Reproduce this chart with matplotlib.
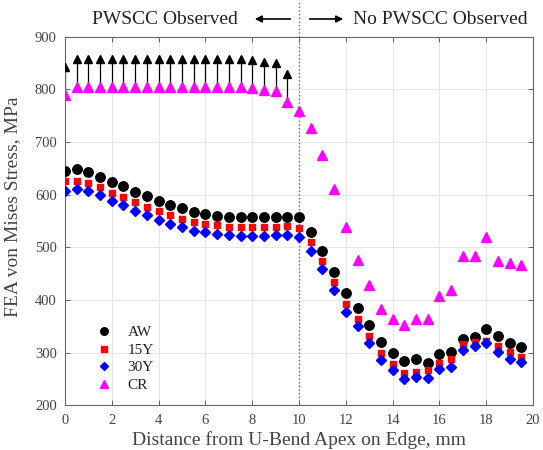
import matplotlib
matplotlib.use("Agg")
import matplotlib.pyplot as plt

# distance from U-bend apex along edge, mm
distance = [0, 0.5, 1, 1.5, 2, 2.5, 3, 3.5, 4, 4.5, 5, 5.5, 6, 6.5, 7, 7.5, 8, 8.5, 9, 9.5,
            10, 10.5, 11, 11.5, 12, 12.5, 13, 13.5, 14, 14.5, 15, 15.5, 16, 16.5, 17, 17.5,
            18, 18.5, 19, 19.5]

aw = [646, 648, 644, 634, 625, 616, 605, 597, 588, 580, 574, 568, 564, 560, 558, 557, 557, 557, 557, 558,
      557, 529, 494, 454, 413, 386, 353, 320, 300, 284, 288, 281, 297, 301, 326, 330, 345, 332, 319, 311]
y15 = [626, 627, 623, 614, 604, 596, 586, 577, 569, 561, 554, 549, 545, 542, 539, 538, 538, 538, 539, 540,
       537, 510, 474, 434, 392, 365, 332, 300, 278, 261, 264, 267, 281, 288, 317, 320, 322, 312, 301, 293]
y30 = [608, 611, 608, 599, 589, 580, 570, 561, 553, 545, 539, 532, 529, 525, 523, 522, 522, 522, 523, 523,
       520, 494, 460, 420, 378, 350, 319, 286, 267, 250, 254, 253, 269, 273, 305, 312, 319, 301, 288, 283]
cr = [789, 804, 804, 804, 804, 804, 804, 804, 804, 804, 804, 804, 804, 804, 804, 804, 802, 799, 797, 777,
      759, 726, 675, 610, 539, 476, 428, 384, 365, 352, 365, 365, 408, 419, 483, 483, 520, 474, 471, 467]

# arrows above CR in the PWSCC observed region
arrow_x = distance[:20]
arrow_top = [843, 857, 857, 857, 857, 857, 857, 857, 857, 857, 857, 857, 857, 857, 857, 857,
             855, 852, 851, 829]

plt.rcParams['font.family'] = ['Liberation Serif', 'DejaVu Serif']

fig = plt.figure(figsize=(5.43, 4.5), dpi=100)
ax = fig.add_axes([0.1197, 0.0989, 0.8619, 0.8195])

gray_txt = '#444444'
spine_c = '#666666'

ax.grid(True, color='#e6e6e6', lw=0.7, zorder=0)
ax.set_axisbelow(True)

ax.axvline(10, ymin=0, ymax=1.1, color='#707070', ls=':', lw=1.0, clip_on=False, zorder=1)

ax.vlines(arrow_x, cr[:20], arrow_top, color='k', lw=0.9, zorder=2)
ax.plot(arrow_x, arrow_top, '^', color='k', ms=5.8, ls='none', zorder=3)

ax.plot(distance, aw, 'o', color='black', ms=6.8, ls='none', label='AW', zorder=4)
ax.plot(distance, y15, 's', color='#ff0000', ms=5.0, ls='none', label='15Y', zorder=4)
ax.plot(distance, y30, 'D', color='#0000ff', ms=4.8, ls='none', label='30Y', zorder=4)
ax.plot(distance, cr, '^', color='#ff00ff', ms=7.0, ls='none', label='CR', zorder=4)

ax.set_xlim(0, 20)
ax.set_ylim(200, 900)
ax.set_xticks(range(0, 21, 2))
ax.set_yticks(range(200, 901, 100))

for s in ax.spines.values():
    s.set_color(spine_c)
    s.set_linewidth(0.8)
ax.tick_params(direction='in', top=True, right=True, length=3.5, width=0.7,
               color=spine_c, labelcolor=gray_txt, labelsize=10.5, pad=6)

ax.set_xlabel('Distance from U-Bend Apex on Edge, mm', fontsize=14, color=gray_txt, labelpad=3)
ax.set_ylabel('FEA von Mises Stress, MPa', fontsize=14, color=gray_txt)
ax.yaxis.set_label_coords(-0.093, 0.54)

leg = ax.legend(loc='lower left', bbox_to_anchor=(0.051, 0.016), frameon=False, fontsize=11,
                handlelength=1.0, handletextpad=1.02, labelspacing=0.25, borderpad=0,
                markerscale=0.8)
for t in leg.get_texts():
    t.set_color('#222222')

# header annotations
fig.text(165 / 543, 1 - 19 / 450, 'PWSCC Observed', ha='center', va='center', fontsize=14, color='#222222')
fig.text(440 / 543, 1 - 19 / 450, 'No PWSCC Observed', ha='center', va='center', fontsize=14, color='#222222')
fig.add_artist(matplotlib.patches.FancyArrowPatch((293 / 543, 1 - 19 / 450), (252 / 543, 1 - 19 / 450),
                                                  transform=fig.transFigure, arrowstyle='-|>',
                                                  mutation_scale=10, color='k', lw=1.2))
fig.add_artist(matplotlib.patches.FancyArrowPatch((307 / 543, 1 - 19 / 450), (346 / 543, 1 - 19 / 450),
                                                  transform=fig.transFigure, arrowstyle='-|>',
                                                  mutation_scale=10, color='k', lw=1.2))

fig.savefig('out.png', dpi=100)
